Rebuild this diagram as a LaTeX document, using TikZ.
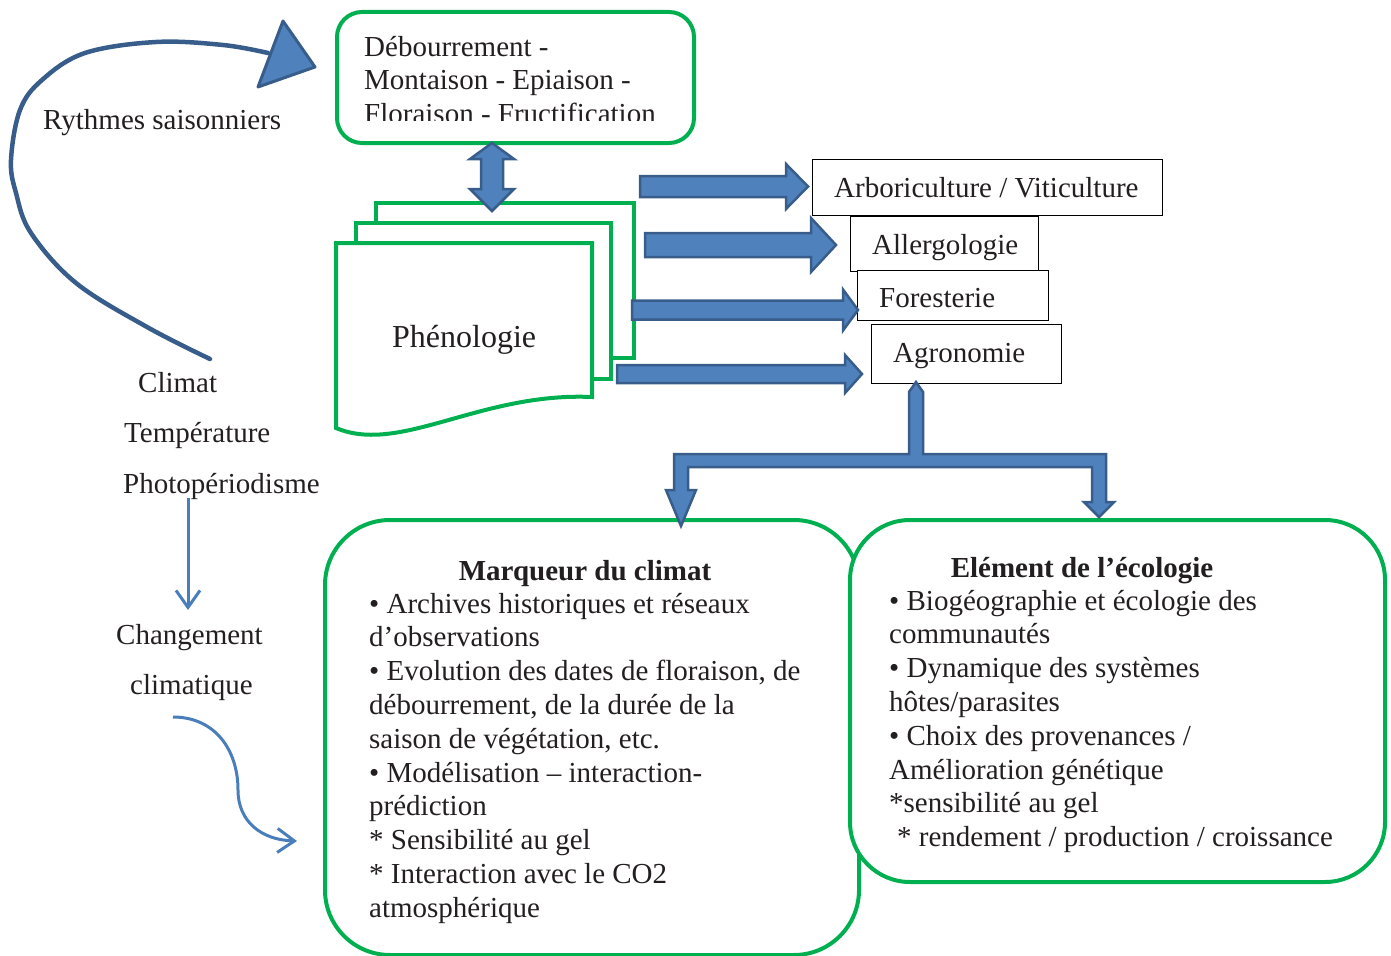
\documentclass[tikz,border=0pt]{standalone}
\usepackage{fontspec}
\setmainfont{Liberation Serif}
\usetikzlibrary{arrows.meta}
\definecolor{grn}{RGB}{0,176,80}
\definecolor{bfill}{RGB}{79,129,189}
\definecolor{bline}{RGB}{56,93,138}
\definecolor{txt}{RGB}{35,31,32}
\definecolor{thinblue}{RGB}{74,126,187}
\begin{document}
\begin{tikzpicture}[x=1pt,y=-1pt,
  font=\fontsize{29}{33.8}\selectfont,
  greenbox/.style={draw=grn, line width=4pt, fill=white, inner sep=0pt},
  docline/.style={draw=grn, line width=4pt, fill=white, line join=miter},
  blk/.style={fill=bfill, draw=bline, line width=2.5pt, line join=miter},
  lbl/.style={anchor=base west, inner sep=0pt, text=txt},
  ttl/.style={anchor=base, inner sep=0pt, text=txt, font=\fontsize{29}{33.8}\selectfont\bfseries},
  tagbox/.style={draw=black, line width=1.3pt, fill=white, inner sep=0pt, anchor=north west},
  thinarr/.style={draw=thinblue, line width=3pt, -{Straight Barb[length=17pt,width=24pt,line width=3pt]}}
]
\useasboundingbox (0,0) rectangle (1391,955);

% ---- big curved arrow (seasonal rhythms)
\coordinate (cstart) at (210,359);
\coordinate (cend) at (268,53);
\draw[draw=bline, line width=4.5pt, line cap=round]
  plot[smooth, tension=0.6] coordinates {(210,359) (147,327) (76,283) (31,233) (16,193) (11,160) (20,110) (42,80) (85,53) (156,42) (223,45) (268,53)};
\draw[fill=bfill, draw=bline, line width=3pt, line join=round] (283,21) -- (315,67) -- (258,87) -- cycle;
\node[lbl] (ryth) at (43,129) {Rythmes saisonniers};

% ---- top phases box
\node[greenbox, rounded corners=25pt, minimum width=357pt, minimum height=131pt, anchor=north west] (phases) at (335,10) {};
\begin{scope}
  \clip (335,10) rectangle (692,121);
  \node[lbl, align=left] (phtxt) at (364,123.6) {Débourrement -\\Montaison - Epiaison -\\Floraison - Fructification};
\end{scope}

% ---- phenology multi-document
\draw[docline] (376,203) rectangle (634,358);
\draw[docline] (356,223) rectangle (611,379);
\draw[docline] (336,243) -- (592,243) -- (592,397) .. controls (480,392) and (400,455) .. (336,428) -- cycle;
\node[lbl, font=\fontsize{32}{36}\selectfont] (pheno) at (392,347) {Phénologie};

% ---- double arrow
\draw[blk] (492,143) -- (514,159) -- (503,159) -- (503,189) -- (514,189) -- (492,211) -- (470,189) -- (481,189) -- (481,159) -- (470,159) -- cycle;

% ---- field boxes
\node[tagbox, minimum width=350pt, minimum height=56pt] (arbo) at (812,159) {};
\node[tagbox, minimum width=188pt, minimum height=55pt] (aller) at (850,216) {};
\node[tagbox, minimum width=191pt, minimum height=50pt] (fores) at (857,270) {};
\node[tagbox, minimum width=190pt, minimum height=59pt] (agro) at (871,324) {};
\node[lbl] (arbot) at (834,197) {Arboriculture / Viticulture};
\node[lbl] (allert) at (872,254) {Allergologie};
\node[lbl] (forest) at (879,307) {Foresterie};
\node[lbl] (agrot) at (893,362) {Agronomie};

% ---- right block arrows
\draw[blk] (640,176) -- (786,176) -- (786,164) -- (808,186.5) -- (786,209) -- (786,197) -- (640,197) -- cycle;
\draw[blk] (645,233) -- (811,233) -- (811,218) -- (836,245) -- (811,272) -- (811,257) -- (645,257) -- cycle;
\draw[blk] (632,300.5) -- (843,300.5) -- (843,289.5) -- (858,310) -- (843,330.5) -- (843,319.5) -- (632,319.5) -- cycle;
\draw[blk] (617,365) -- (845,365) -- (845,355) -- (862,374) -- (845,393) -- (845,383) -- (617,383) -- cycle;

% ---- bottom boxes
\node[greenbox, rounded corners=65pt, minimum width=534pt, minimum height=435pt, anchor=north west] (marq) at (323,518) {};
\node[greenbox, rounded corners=60pt, minimum width=535pt, minimum height=362pt, anchor=north west] (ecol) at (848,518) {};

\node[ttl] (marqt) at (585,580) {Marqueur du climat};
\node[lbl, align=left] (marqb) at (369,917.2) {• Archives historiques et réseaux\\d’observations\\• Evolution des dates de floraison, de\\débourrement, de la durée de la\\saison de végétation, etc.\\• Modélisation – interaction-\\prédiction\\* Sensibilité au gel\\* Interaction avec le CO2\\atmosphérique};

\node[ttl] (ecolt) at (1082,577) {Elément de l’écologie};
\node[lbl, align=left] (ecolb) at (889,846.6) {• Biogéographie et écologie des\\communautés\\• Dynamique des systèmes\\hôtes/parasites\\• Choix des provenances /\\Amélioration génétique\\*sensibilité au gel\\\hspace*{8pt}* rendement / production / croissance};

% ---- branching arrow from Agronomie
\draw[blk] (916,382) -- (923,392) -- (923,454) -- (1106,454) -- (1106,502) -- (1114,502) -- (1099,517) -- (1084,502) -- (1092,502) -- (1092,467) -- (688,467) -- (688,490) -- (696,490) -- (681,526) -- (666,490) -- (674,490) -- (674,454) -- (909,454) -- (909,392) -- cycle;

% ---- left labels
\node[lbl] (clim) at (138,392) {Climat};
\node[lbl] (temp) at (124,442) {Température};
\node[lbl] (photo) at (123,493) {Photopériodisme};
\node[lbl] (chg) at (116,644) {Changement};
\node[lbl] (clmq) at (130,694) {climatique};

\coordinate (a1s) at (188,498);
\coordinate (a1e) at (188,610);
\draw[thinarr] (a1s) -- (a1e);
\coordinate (a2s) at (173,717);
\coordinate (a2m) at (238,790);
\coordinate (a2e) at (297,841);
\draw[thinarr] (a2s) .. controls (215,717) and (238,750) .. (a2m) .. controls (238,822) and (262,840) .. (a2e);
\end{tikzpicture}
\end{document}
